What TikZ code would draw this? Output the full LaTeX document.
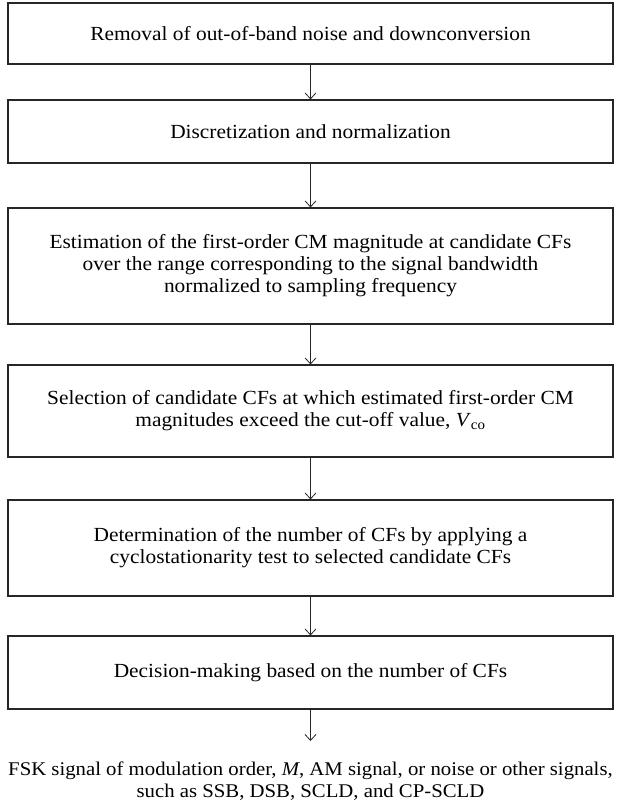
\documentclass[tikz,border=0pt]{standalone}
\usepackage{fontspec}
\setmainfont{Liberation Serif}[FakeStretch=1.07]
\usetikzlibrary{arrows.meta}
\begin{document}
\begin{tikzpicture}[x=1pt,y=-1pt,
  stepbox/.style={draw=black!85, line width=1.1pt, minimum width=605pt, inner sep=0pt, align=center,
    font=\fontsize{20}{22}\selectfont},
  outtext/.style={inner sep=0pt, align=center, font=\fontsize{19.4}{22}\selectfont},
  flow/.style={draw=black!85, line width=0.8pt, -{Straight Barb[length=6pt,width=11pt,line width=0.8pt]}}]
\useasboundingbox (0,0) rectangle (621,805);
\node[stepbox, minimum height=61pt] (b1) at (310.5,33.5) {Removal of out-of-band noise and downconversion};
\node[stepbox, minimum height=63pt] (b2) at (310.5,131.5) {Discretization and normalization};
\node[stepbox, minimum height=116pt] (b3) at (310.5,266) {Estimation of the first-order CM magnitude at candidate CFs\\over the range corresponding to the signal bandwidth\\normalized to sampling frequency};
\node[stepbox, minimum height=92pt] (b4) at (310.5,411) {Selection of candidate CFs at which estimated first-order CM\\magnitudes exceed the cut-off value, \textit{V}\textsubscript{co}};
\node[stepbox, minimum height=96pt] (b5) at (310.5,548) {Determination of the number of CFs by applying a\\cyclostationarity test to selected candidate CFs};
\node[stepbox, minimum height=73pt] (b6) at (310.5,672.5) {Decision-making based on the number of CFs};
\node[outtext, anchor=south] (out) at (310.5,801) {FSK signal of modulation order, \textit{M}, AM signal, or noise or other signals,\\such as SSB, DSB, SCLD, and CP-SCLD};
\coordinate (tipend) at (310.5,741);
\draw[flow] (b1) -- (b2);
\draw[flow] (b2) -- (b3);
\draw[flow] (b3) -- (b4);
\draw[flow] (b4) -- (b5);
\draw[flow] (b5) -- (b6);
\draw[flow] (b6) -- (tipend);
\end{tikzpicture}
\end{document}
